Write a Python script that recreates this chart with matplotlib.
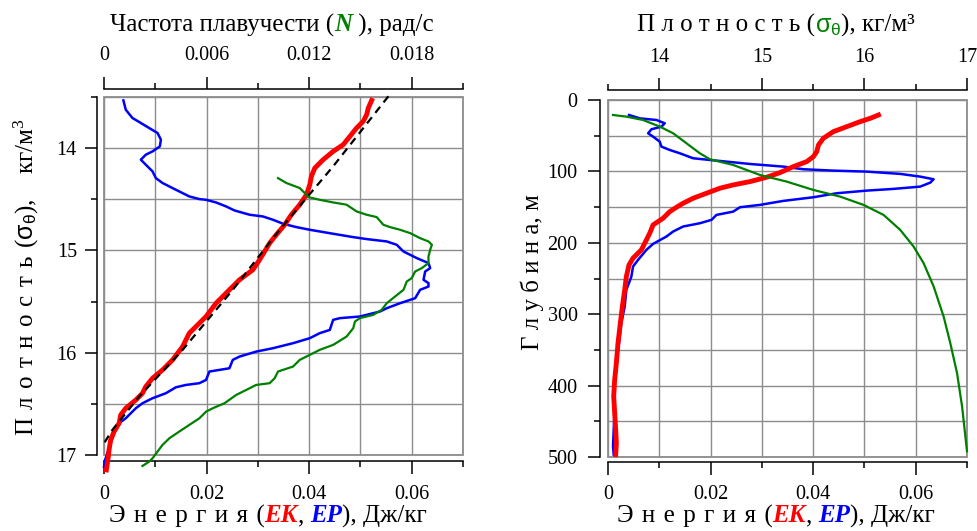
import numpy as np
import matplotlib
matplotlib.use('Agg')
import matplotlib.pyplot as plt
from matplotlib.offsetbox import TextArea, HPacker, AnnotationBbox
from matplotlib.ticker import MultipleLocator, FuncFormatter
from matplotlib.patches import Rectangle

plt.rcParams['font.family'] = ['Liberation Serif', 'DejaVu Serif']
plt.rcParams['mathtext.fontset'] = 'custom'
plt.rcParams['mathtext.rm'] = 'Liberation Serif'
plt.rcParams['mathtext.it'] = 'Liberation Serif:italic'
plt.rcParams['mathtext.sf'] = 'Liberation Sans'

# ---- left panel: energy / buoyancy frequency vs density ----
ep_left_e = [0.00378, 0.00424, 0.00554, 0.00718, 0.00913, 0.01044, 0.01109, 0.01089,
             0.00946, 0.00815, 0.00718, 0.00815, 0.00946, 0.01011, 0.01142, 0.01402,
             0.01663, 0.01859, 0.01990, 0.02185, 0.02381, 0.02544, 0.02838, 0.03099,
             0.03294, 0.03490, 0.03751, 0.04012, 0.04468, 0.04860, 0.05121, 0.05512,
             0.05708, 0.05838, 0.06099, 0.06327, 0.06360, 0.06262, 0.06230, 0.06327,
             0.06327, 0.06164, 0.06067, 0.05773, 0.05512, 0.05382, 0.04990, 0.04599,
             0.04468, 0.04403, 0.04207, 0.04012, 0.03686, 0.03294, 0.02968, 0.02642,
             0.02511, 0.02446, 0.02055, 0.01990, 0.01859, 0.01598, 0.01402, 0.01207,
             0.00946, 0.00750, 0.00620, 0.00522, 0.00424, 0.00294, 0.00196, 0.00130,
             0.00065, 0.00020, 0.0]
ep_left_rho = [13.533, 13.624, 13.705, 13.754, 13.813, 13.852, 13.917, 13.983,
               14.032, 14.064, 14.113, 14.162, 14.227, 14.293, 14.341, 14.407,
               14.472, 14.498, 14.505, 14.531, 14.570, 14.609, 14.651, 14.668,
               14.700, 14.739, 14.772, 14.798, 14.837, 14.870, 14.889, 14.912,
               14.945, 15.010, 15.075, 15.124, 15.173, 15.206, 15.287, 15.320,
               15.353, 15.385, 15.467, 15.516, 15.565, 15.597, 15.646, 15.662,
               15.679, 15.777, 15.809, 15.858, 15.907, 15.956, 15.989, 16.038,
               16.070, 16.152, 16.184, 16.266, 16.298, 16.315, 16.338, 16.396,
               16.445, 16.494, 16.543, 16.592, 16.641, 16.690, 16.788, 16.886,
               16.983, 17.049, 17.114]

ek_left_e = [0.05219, 0.05153, 0.05121, 0.05055, 0.04925, 0.04795, 0.04664, 0.04468,
             0.04273, 0.04110, 0.04044, 0.04012, 0.03947, 0.03816, 0.03653, 0.03523,
             0.03359, 0.03229, 0.03033, 0.02903, 0.02642, 0.02446, 0.02185, 0.01990,
             0.01794, 0.01663, 0.01533, 0.01337, 0.01142, 0.00946, 0.00815, 0.00750,
             0.00620, 0.00424, 0.00326, 0.00294, 0.00196, 0.00130, 0.00098, 0.00085,
             0.00065, 0.00046]
ek_left_rho = [13.533, 13.608, 13.673, 13.738, 13.803, 13.885, 13.966, 14.032,
               14.113, 14.195, 14.276, 14.358, 14.456, 14.553, 14.651, 14.749,
               14.847, 14.929, 15.092, 15.189, 15.287, 15.385, 15.516, 15.646,
               15.744, 15.809, 15.940, 16.070, 16.168, 16.250, 16.331, 16.396,
               16.462, 16.543, 16.608, 16.690, 16.771, 16.853, 16.951, 17.016,
               17.081, 17.146]

fit_e = [0.05545, 0.04468, 0.03425, 0.02511, 0.01533, 0.00685, 0.00163, 0.0]
fit_rho = [13.493, 14.178, 14.798, 15.385, 15.972, 16.429, 16.755, 16.886]

n_left = [0.01018, 0.01067, 0.01145, 0.01174, 0.01194, 0.01262, 0.01341, 0.01419,
          0.01478, 0.01536, 0.01595, 0.01634, 0.01673, 0.01732, 0.01791, 0.01849,
          0.01898, 0.01918, 0.01908, 0.01898, 0.01898, 0.01859, 0.01820, 0.01800,
          0.01771, 0.01752, 0.01703, 0.01654, 0.01624, 0.01575, 0.01497, 0.01468,
          0.01458, 0.01419, 0.01341, 0.01262, 0.01204, 0.01145, 0.01106, 0.01018,
          0.00998, 0.00969, 0.00890, 0.00832, 0.00773, 0.00705, 0.00636, 0.00597,
          0.00558, 0.00499, 0.00440, 0.00382, 0.00342, 0.00313, 0.00284, 0.00264,
          0.00225]
n_left_rho = [14.293, 14.341, 14.390, 14.439, 14.478, 14.505, 14.531, 14.553,
              14.619, 14.651, 14.674, 14.749, 14.772, 14.798, 14.831, 14.880,
              14.912, 14.945, 14.994, 15.059, 15.124, 15.173, 15.206, 15.271,
              15.304, 15.385, 15.450, 15.516, 15.581, 15.630, 15.662, 15.695,
              15.760, 15.842, 15.923, 15.972, 16.021, 16.070, 16.135, 16.184,
              16.250, 16.298, 16.315, 16.364, 16.413, 16.494, 16.543, 16.576,
              16.641, 16.706, 16.771, 16.837, 16.902, 16.967, 17.032, 17.065,
              17.107]

# ---- right panel: energy / density vs depth ----
rho_right = [13.549, 13.679, 13.842, 14.005, 14.135, 14.265, 14.395, 14.493,
             14.721, 14.982, 15.242, 15.503, 15.763, 15.991, 16.186, 16.349,
             16.479, 16.577, 16.675, 16.772, 16.837, 16.903, 16.952, 17.0]
rho_depth = [21, 23.3, 28, 37.3, 46.6, 60.6, 74.6, 83, 91, 105, 114.3, 126,
             135.3, 146.9, 160.9, 181.9, 205.2, 228.5, 261.2, 303.2, 340.5,
             382.5, 429.1, 492]

ek_right = [0.05274, 0.05112, 0.04917, 0.04656, 0.04395, 0.04200, 0.04103, 0.04070,
            0.04005, 0.03875, 0.03614, 0.03353, 0.03093, 0.02767, 0.02442, 0.02181,
            0.01921, 0.01660, 0.01465, 0.01335, 0.01205, 0.01074, 0.00879, 0.00814,
            0.00749, 0.00651, 0.00488, 0.00410, 0.00358, 0.00326, 0.00280, 0.00241,
            0.00195, 0.00163, 0.00130, 0.00111, 0.00130, 0.00150, 0.00163, 0.00150]
ek_depth = [21, 25.7, 30.3, 37.3, 44.3, 53.6, 63, 72.3, 79.3, 86.3, 93.3, 101.7,
            108.2, 114.3, 118.9, 123.6, 130.6, 137.6, 144.6, 150.2, 156.3, 165.6,
            174.9, 186.6, 195.9, 209.9, 221.5, 230.9, 247.2, 265.9, 289.2, 312.5,
            340.5, 368.5, 391.8, 415.1, 438.4, 461.8, 480.4, 496.7]

ep_right = [0.00410, 0.00619, 0.00944, 0.01107, 0.01042, 0.00847, 0.00782, 0.00879,
            0.01009, 0.01042, 0.01205, 0.01400, 0.01660, 0.01986, 0.02312, 0.02767,
            0.03419, 0.03816, 0.04395, 0.05046, 0.05698, 0.06088, 0.06349, 0.06284,
            0.06088, 0.05567, 0.05046, 0.04460, 0.04005, 0.03419, 0.02963, 0.02572,
            0.02442, 0.02116, 0.02018, 0.01791, 0.01465, 0.01270, 0.01140, 0.00879,
            0.00749, 0.00586, 0.00488, 0.00456, 0.00358, 0.00326, 0.00260, 0.00215,
            0.00163, 0.00111, 0.00130, 0.00111, 0.00098, 0.00111]
ep_depth = [21, 25.7, 28, 32.6, 37.3, 41, 46.6, 51.3, 58.3, 65.3, 70, 74.6, 81.6,
            84, 86.3, 89.6, 93.3, 97, 98.9, 100.3, 103.5, 107.3, 111, 115.7, 121.3,
            124.5, 126.9, 130.6, 136.2, 141.3, 146.9, 150.2, 156.3, 160.9, 167.9,
            172.6, 177.2, 184.2, 191.2, 201.5, 209.9, 223.9, 233.2, 247.2, 265.9,
            289.2, 312.5, 340.5, 368.5, 405.8, 433.8, 461.8, 485.1, 496.7]

RED = '#ff0000'
BLUE = '#0000ff'
GREEN = '#008000'
GRID = '#8c8c8c'
TICKSIZE = 14.5
TITLESIZE = 18
SP = '\u2004'  # slightly wider gap for letter-spaced words

fmt = FuncFormatter(lambda v, p: '%g' % round(v, 6))


def spaced(word, gap=SP):
    return gap.join(word)


def style_main(ax, left_off, bottom_off, left_pad):
    ax.grid(True, which='both', color=GRID, lw=1.0)
    ax.set_axisbelow(True)
    ax.spines['top'].set_visible(False)
    ax.spines['right'].set_visible(False)
    ax.spines['left'].set_position(('outward', left_off))
    ax.spines['bottom'].set_position(('outward', bottom_off))
    for s in ('left', 'bottom'):
        ax.spines[s].set_linewidth(1.1)
    ax.tick_params(which='major', length=9, width=1.1, labelsize=TICKSIZE)
    ax.tick_params(which='minor', length=4.5, width=1.1)
    ax.tick_params(axis='x', which='major', pad=8)
    ax.tick_params(axis='y', which='major', pad=left_pad)
    ax.xaxis.set_major_formatter(fmt)
    ax.yaxis.set_major_formatter(fmt)
    ax.add_patch(Rectangle((0, 0), 1, 1, transform=ax.transAxes, fill=False,
                           ec=GRID, lw=1.3, clip_on=False, zorder=0.6))


def style_top(axt, top_off):
    for s in ('left', 'right', 'bottom'):
        axt.spines[s].set_visible(False)
    axt.spines['top'].set_position(('outward', top_off))
    axt.spines['top'].set_linewidth(1.1)
    axt.tick_params(which='major', length=9, width=1.1, labelsize=TICKSIZE, pad=8)
    axt.tick_params(which='minor', length=4.5, width=1.1)
    axt.xaxis.set_major_formatter(fmt)


def rich(fig, parts, x, y):
    areas = []
    for text, props in parts:
        tp = dict(fontsize=TITLESIZE, color='black')
        tp.update(props)
        areas.append(TextArea(text, textprops=tp))
    box = HPacker(children=areas, align='baseline', pad=0, sep=0)
    ab = AnnotationBbox(box, (x / 977, 1 - y / 531), xycoords='figure fraction',
                        frameon=False, box_alignment=(0.5, 0.5), pad=0)
    fig.add_artist(ab)


fig = plt.figure(figsize=(9.77, 5.31), dpi=100)
ax1 = fig.add_axes([104 / 977, 1 - 455 / 531, 359 / 977, 358 / 531])
ax2 = fig.add_axes([608 / 977, 1 - 457 / 531, 359 / 977, 357 / 531])

# left panel
ax1.set_xlim(0, 0.07)
ax1.set_ylim(17, 13.5)
ax1.xaxis.set_major_locator(MultipleLocator(0.02))
ax1.xaxis.set_minor_locator(MultipleLocator(0.01))
ax1.yaxis.set_major_locator(MultipleLocator(1))
ax1.yaxis.set_minor_locator(MultipleLocator(0.5))
style_main(ax1, 5, 4.3, 5.5)
ax1.plot(ep_left_e, ep_left_rho, color=BLUE, lw=1.8, clip_on=False, zorder=3)
ax1.plot(ek_left_e, ek_left_rho, color=RED, lw=3.5, clip_on=False, zorder=4)
ax1.plot(fit_e, fit_rho, color='black', lw=1.6, dashes=(3.5, 2.5), clip_on=False, zorder=5)

ax1t = ax1.twiny()
ax1t.set_xlim(0, 0.021)
ax1t.xaxis.set_major_locator(MultipleLocator(0.006))
ax1t.xaxis.set_minor_locator(MultipleLocator(0.003))
style_top(ax1t, 5.8)
ax1t.plot(n_left, n_left_rho, color=GREEN, lw=1.6, clip_on=False)

# right panel
ax2.set_xlim(0, 0.07)
ax2.set_ylim(500, 0)
ax2.xaxis.set_major_locator(MultipleLocator(0.02))
ax2.xaxis.set_minor_locator(MultipleLocator(0.01))
ax2.yaxis.set_major_locator(MultipleLocator(100))
ax2.yaxis.set_minor_locator(MultipleLocator(50))
style_main(ax2, 5.8, 3.5, 7)
ax2.plot(ep_right, ep_depth, color=BLUE, lw=1.8, clip_on=False, zorder=3)
ax2.plot(ek_right, ek_depth, color=RED, lw=3.5, clip_on=False, zorder=4)

ax2t = ax2.twiny()
ax2t.set_xlim(13.5, 17)
ax2t.xaxis.set_major_locator(MultipleLocator(1))
ax2t.xaxis.set_minor_locator(MultipleLocator(0.5))
style_top(ax2t, 7)
ax2t.plot(rho_right, rho_depth, color=GREEN, lw=1.6, clip_on=False)

# axis titles
bi = dict(fontweight='bold', style='italic')
energy_word = spaced('Энергия') + SP + '('
rich(fig, [('Частота плавучести (', {}), ('N', dict(color=GREEN, **bi)),
           (' ), рад/с', {})], 272, 25)
rich(fig, [(energy_word, {}), ('EK', dict(color=RED, **bi)), (', ', {}),
           ('EP', dict(color=BLUE, **bi)), ('), Дж/кг', {})], 268, 516)
rich(fig, [(spaced('Плотность', ' ') + ' (', {}),
           (r'$\mathsf{σ}_{\mathsf{θ}}$', dict(color=GREEN)),
           ('), кг/м³', {})], 776, 26)
rich(fig, [(energy_word, {}), ('EK', dict(color=RED, **bi)), (', ', {}),
           ('EP', dict(color=BLUE, **bi)), ('), Дж/кг', {})], 776, 516)

fig.text(26 / 977, 1 - 277 / 531,
         spaced('Плотность') + SP + r'($\mathsf{σ}_{\mathsf{θ}}$),' + SP * 3 + r'кг/м$^{3}$',
         rotation=90, ha='center', va='center', fontsize=TITLESIZE)
fig.text(532 / 977, 1 - 272 / 531, spaced('Глубина', ' ') + ', м', rotation=90,
         ha='center', va='center', fontsize=TITLESIZE)

fig.savefig('out.png', dpi=100)
